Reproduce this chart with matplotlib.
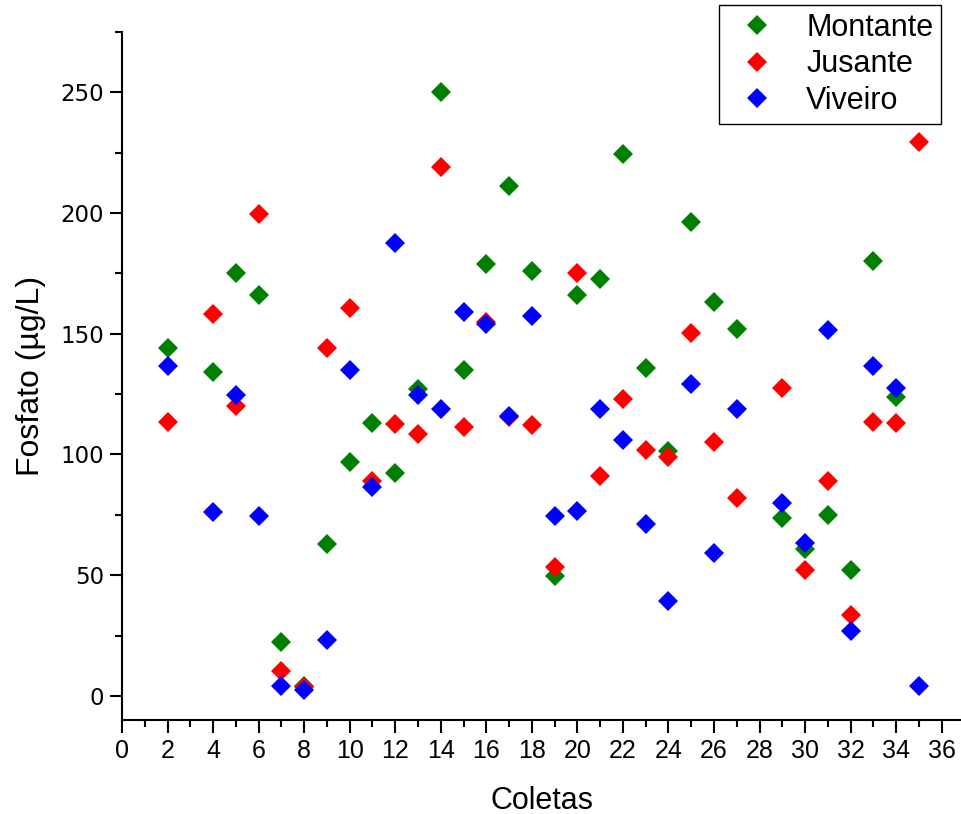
import matplotlib.pyplot as plt
from matplotlib.ticker import MultipleLocator

plt.rcParams["font.family"] = ["Liberation Sans", "DejaVu Sans"]

# collection number for each sample
coletas = [2, 4, 5, 6, 7, 8, 9, 10, 11, 12, 13, 14, 15, 16, 17, 18, 19, 20,
           21, 22, 23, 24, 25, 26, 27, 29, 30, 31, 32, 33, 34]
montante = [144, 134, 175, 166, 22.5, 4, 63, 97, 113, 92.5, 127, 250, 135, 179,
            211, 176, 49.5, 166, 172.5, 224.5, 136, 101.5, 196.5, 163, 152,
            73.5, 61, 75, 52, 180, 124]
jusante_x = coletas + [35]
jusante = [113.5, 158, 120, 199.5, 10.5, 3.5, 144, 160.5, 89, 112.5, 108.5, 219,
           111.5, 155, 115.5, 112, 53.5, 175, 91, 123, 102, 99, 150.5, 105, 82,
           127.5, 52, 89, 33.5, 113.5, 113, 229.5]
viveiro_x = coletas + [35]
viveiro = [136.5, 76, 124.5, 74.5, 4, 2.5, 23, 135, 86.5, 187.5, 124.5, 119,
           159, 154, 116, 157.5, 74.5, 76.5, 119, 106, 71, 39.5, 129, 59, 119,
           80, 63.5, 151.5, 27, 136.5, 127.5, 4]

fig = plt.figure(figsize=(9.61, 8.14), dpi=100)
ax = fig.add_axes([122 / 961, 1 - 720 / 814, 1 - 122 / 961, (720 - 32) / 814])

ms = 10
ax.plot(coletas, montante, "D", color="#008000", ms=ms, mew=0, label="Montante")
ax.plot(jusante_x, jusante, "D", color="#ff0000", ms=ms, mew=0, label="Jusante")
ax.plot(viveiro_x, viveiro, "D", color="#0000ff", ms=ms, mew=0, label="Viveiro")

ax.set_xlim(0, 36.85)
ax.set_ylim(-10, 275)
ax.xaxis.set_major_locator(MultipleLocator(2))
ax.xaxis.set_minor_locator(MultipleLocator(1))
ax.yaxis.set_major_locator(MultipleLocator(50))
ax.yaxis.set_minor_locator(MultipleLocator(25))

for s in ["top", "right"]:
    ax.spines[s].set_visible(False)
for s in ["left", "bottom"]:
    ax.spines[s].set_linewidth(1.5)
ax.tick_params(which="major", direction="out", length=9, width=1.5)
ax.tick_params(which="minor", direction="out", length=5, width=1.5)
ax.tick_params(axis="y", labelsize=16.5, pad=4)
ax.tick_params(axis="x", labelsize=18, pad=5)
for lab in ax.get_yticklabels():
    lab.set_family(["DejaVu Sans"])
for lab in ax.get_xticklabels():
    lab.set_family(["Liberation Sans Narrow", "Liberation Sans", "DejaVu Sans"])

ax.set_xlabel("Coletas", fontsize=22, labelpad=16)
ax.set_ylabel("Fosfato (\u00b5g/L)", fontsize=23, labelpad=10)

fig.legend(loc="upper right", bbox_to_anchor=(941 / 961, 1 - 5 / 814),
           fontsize=22, fancybox=False, edgecolor="black", framealpha=1,
           borderpad=0.25, labelspacing=0.22, handlelength=2.0,
           handletextpad=0.6, borderaxespad=0)

fig.savefig("out.png", dpi=100)
